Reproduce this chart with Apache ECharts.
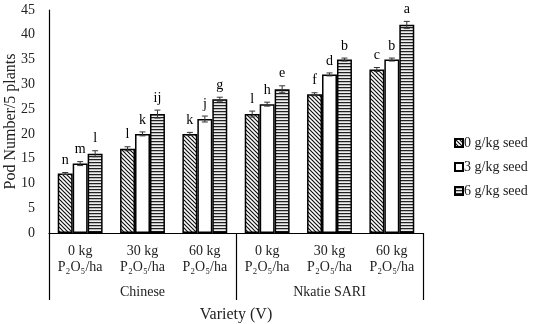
<!DOCTYPE html>
<html><head><meta charset="utf-8">
<script src="https://cdn.jsdelivr.net/npm/echarts@6/dist/echarts.min.js"></script>
<style>html,body{margin:0;padding:0;background:#fff}#c{width:536px;height:324px}</style>
</head><body><div id="c"></div>
<script>
var categories = ['0 kg\nP₂O₅/ha','30 kg\nP₂O₅/ha','60 kg\nP₂O₅/ha','0 kg\nP₂O₅/ha','30 kg\nP₂O₅/ha','60 kg\nP₂O₅/ha'];
var varieties = ['Chinese','Nkatie SARI'];
var seriesNames = ['0 g/kg seed','3 g/kg seed','6 g/kg seed'];
var values0 = [12, 17, 20, 24, 28, 33];
var values3 = [14, 20, 23, 26, 32, 35];
var values6 = [16, 24, 27, 29, 35, 42];
var err0 = [0.2, 0.4, 0.3, 0.6, 0.3, 0.4];
var err3 = [0.4, 0.4, 0.6, 0.4, 0.3, 0.3];
var err6 = [0.6, 0.8, 0.4, 0.7, 0.3, 0.7];
var letters0 = ['n','l','k','l','f','c'];
var letters3 = ['m','k','j','h','d','b'];
var letters6 = ['l','ij','g','e','b','a'];
var yTicks = {min:0, max:45, interval:5};

var FONT = 'Liberation Serif';
function hatchPattern(){
  var c = document.createElement('canvas'); c.width=4; c.height=4;
  var g = c.getContext('2d'); g.fillStyle='#fff'; g.fillRect(0,0,4,4);
  g.strokeStyle='#111'; g.lineWidth=1.2;
  g.beginPath(); g.moveTo(-1,-1); g.lineTo(5,5); g.stroke();
  g.beginPath(); g.moveTo(-1,3); g.lineTo(1,5); g.stroke();
  g.beginPath(); g.moveTo(3,-1); g.lineTo(5,1); g.stroke();
  return c;
}
function stripePattern(){
  var c = document.createElement('canvas'); c.width=4; c.height=3;
  var g = c.getContext('2d');
  g.fillStyle='#222'; g.fillRect(0,0,4,1);
  g.fillStyle='#bbb'; g.fillRect(0,1,4,1);
  g.fillStyle='#eee'; g.fillRect(0,2,4,1);
  return c;
}
var fills = [
  {image: hatchPattern(), repeat:'repeat'},
  '#ffffff',
  {image: stripePattern(), repeat:'repeat'}
];
var vals = [values0, values3, values6];
var errs = [err0, err3, err6];
var lets = [letters0, letters3, letters6];
var BW = 0.24;

var chart = echarts.init(document.getElementById('c'), null, {renderer:'canvas'});
var series = [];
for (var s=0; s<3; s++){
  series.push({
    name: seriesNames[s], type:'bar', data: vals[s], barWidth: (BW*100)+'%', barGap:'0%',
    itemStyle:{color: fills[s], borderColor:'#000', borderWidth:1.5},
    xAxisIndex:0, yAxisIndex:0
  });
}
for (var s2=0; s2<3; s2++){
  (function(si){
    series.push({
      type:'custom', xAxisIndex:0, yAxisIndex:0, silent:true, z:5,
      data: vals[si].map(function(v,i){return [i, v, errs[si][i]];}),
      renderItem: function(params, api){
        var i = api.value(0), v = api.value(1), e = api.value(2);
        var letter = lets[si][i];
        var band = api.size([1,0])[0];
        var bw = band*BW;
        var cx = api.coord([i, 0])[0] + (si-1)*bw;
        var yTop = api.coord([i, v+e])[1];
        var yBot = api.coord([i, v-e])[1];
        var cap = 3;
        var st = {stroke:'#333', lineWidth:1};
        return {type:'group', children:[
          {type:'line', shape:{x1:cx,y1:yTop,x2:cx,y2:yBot}, style:st},
          {type:'line', shape:{x1:cx-cap,y1:yTop,x2:cx+cap,y2:yTop}, style:st},
          {type:'line', shape:{x1:cx-cap,y1:yBot,x2:cx+cap,y2:yBot}, style:st},
          {type:'text', style:{text:letter, x:cx, y:yTop-5, align:'center', verticalAlign:'bottom',
            font:'14px "'+FONT+'"', fill:'#000'}}
        ]};
      }
    });
  })(s2);
}

chart.setOption({
  animation:false,
  textStyle:{fontFamily:FONT},
  grid:{left:49, right:113, top:10, bottom:91, containLabel:false, outerBoundsMode:'none'},
  legend:{
    data: seriesNames, orient:'vertical', left:449, top:131,
    itemWidth:8, itemHeight:8, itemGap:10, icon:'rect',
    textStyle:{fontFamily:FONT, fontSize:14, color:'#222', padding:[0,0,0,-4]}
  },
  xAxis:[
    {type:'category', data:categories, position:'bottom',
     axisLine:{show:true, lineStyle:{color:'#000', width:1.2}},
     axisTick:{show:false},
     axisLabel:{color:'#222', fontFamily:FONT, fontSize:14, lineHeight:16, margin:10, interval:0}},
    {type:'category', data:varieties, position:'bottom', gridIndex:0,
     axisLine:{show:false},
     axisTick:{show:true, length:67, inside:false, lineStyle:{color:'#000', width:1.2}},
     axisLabel:{color:'#222', fontFamily:FONT, fontSize:14, margin:52},
     name:'Variety (V)', nameLocation:'middle', nameGap:74, nameMoveOverlap:false,
     nameTextStyle:{fontFamily:FONT, fontSize:16, color:'#222'}}
  ],
  yAxis:{type:'value', min:yTicks.min, max:yTicks.max, interval:yTicks.interval,
    axisLine:{show:true, lineStyle:{color:'#000', width:1.2}},
    axisTick:{show:false}, splitLine:{show:false},
    axisLabel:{color:'#222', fontFamily:FONT, fontSize:14, margin:14},
    name:'Pod Number/5 plants', nameLocation:'middle', nameGap:30, nameMoveOverlap:false,
    nameTextStyle:{fontFamily:FONT, fontSize:16, color:'#222'}},
  series: series
});
</script></body></html>
